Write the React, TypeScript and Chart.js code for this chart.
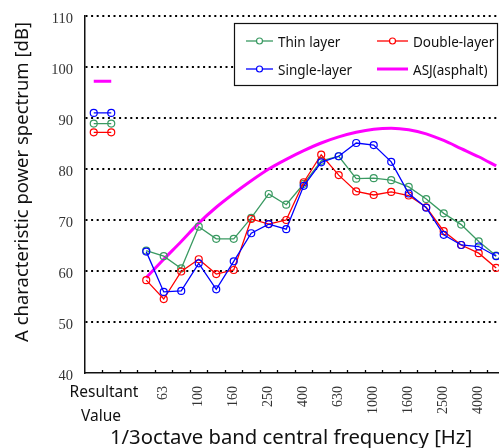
import React, { useEffect, useRef } from "react";
import { Chart, registerables } from "chart.js";

Chart.register(...registerables);

// 1/3 octave band centre frequencies [Hz]
const bands = ["50", "63", "80", "100", "125", "160", "200", "250", "315", "400", "500", "630", "800", "1000", "1250", "1600", "2000", "2500", "3150", "4000", "5000"];
// bands that carry a tick label
const labeledBands = ["63", "100", "160", "250", "400", "630", "1000", "1600", "2500", "4000"];
const resultantLabel = ["Resultant", "Value"];

// A characteristic power spectrum [dB]
const thinLayer = [64.0, 62.9, 60.5, 68.7, 66.3, 66.3, 70.4, 75.1, 73.0, 77.1, 81.6, 82.5, 78.1, 78.2, 77.8, 76.5, 74.1, 71.3, 69.1, 65.8, 63.0];
const doubleLayer = [58.2, 54.5, 59.9, 62.3, 59.4, 60.2, 70.2, 69.2, 70.0, 77.4, 82.8, 78.8, 75.6, 74.9, 75.5, 74.8, 72.5, 67.8, 65.1, 63.5, 60.6];
const singleLayer = [63.8, 55.9, 56.1, 61.5, 56.4, 61.9, 67.4, 69.2, 68.2, 76.7, 81.3, 82.5, 85.1, 84.7, 81.4, 75.2, 72.4, 67.1, 65.1, 64.8, 62.9];
const asjAsphalt = [58.7, 62.3, 65.8, 69.4, 72.5, 75.2, 77.7, 80.0, 81.9, 83.6, 85.1, 86.3, 87.2, 87.8, 88.0, 87.7, 86.9, 85.6, 84.0, 82.4, 80.6];

// overall (resultant) values [dB]
const thinResultant = 88.9;
const doubleResultant = 87.2;
const singleResultant = 91.0;
const asjResultant = 97.2;

const seriesNames = ["Thin layer", "Double-layer", "Single-layer", "ASJ(asphalt)"];
const seriesColors = ["#3a9a62", "#ff0000", "#0000ff", "#ff00ff"];

const yMin = 40;
const yMax = 110;
const yStep = 10;

// slot layout along the x axis: 2 resultant slots, 1 empty slot, then the bands
const RESULTANT_SLOTS = [0, 1];
const GAP_SLOT = 2;
const BAND_START = 3;
const X_MAX = 23.66;

function buildData(resultant: number, values: number[]) {
  return [
    ...RESULTANT_SLOTS.map((s) => ({ x: s + 0.5, y: resultant })),
    { x: GAP_SLOT + 0.5, y: null as any },
    ...values.map((v, i) => ({ x: BAND_START + i + 0.5, y: v })),
  ];
}

const SANS = "'Noto Sans', 'Open Sans', sans-serif";
const SERIF = "'Liberation Serif', 'DejaVu Serif', serif";

const decorPlugin = {
  id: "decor",
  afterDraw(chart: any) {
    const { ctx, chartArea, scales } = chart;
    const x = scales.x;
    ctx.save();
    // inward tick marks on the x axis
    ctx.strokeStyle = "#000";
    ctx.lineWidth = 1.3;
    for (let i = 1; i <= Math.floor(X_MAX); i++) {
      const px = Math.round(x.getPixelForValue(i)) + 0.5;
      ctx.beginPath();
      ctx.moveTo(px, chartArea.bottom);
      ctx.lineTo(px, chartArea.bottom - 3);
      ctx.stroke();
    }

    // "Resultant Value" label under the resultant slots
    ctx.fillStyle = "#111";
    ctx.font = `15.5px ${SANS}`;
    ctx.textAlign = "center";
    ctx.textBaseline = "alphabetic";
    const cx = x.getPixelForValue(1) + 1.5;
    ctx.fillText(resultantLabel[0], cx, 396.5);
    ctx.fillText(resultantLabel[1], cx - 3, 420.5);

    // axis titles
    ctx.font = `20.3px ${SANS}`;
    ctx.fillText("1/3octave band central frequency [Hz]", 291, 444);
    ctx.save();
    ctx.translate(27.5, 182);
    ctx.rotate(-Math.PI / 2);
    ctx.font = `18.5px ${SANS}`;
    ctx.fillText("A characteristic power spectrum [dB]", 0, 0);
    ctx.restore();

    // legend box
    const bx = 234.5, by = 23.5, bw = 263, bh = 62;
    ctx.fillStyle = "#fff";
    ctx.fillRect(bx, by, bw, bh);
    ctx.strokeStyle = "#111";
    ctx.lineWidth = 1.2;
    ctx.strokeRect(bx, by, bw, bh);
    const cols = [
      { x0: 246, x1: 273, tx: 278 },
      { x0: 377, x1: 408, tx: 413 },
    ];
    const rows = [41, 69];
    ctx.font = `13.5px ${SANS}`;
    ctx.textAlign = "left";
    seriesNames.forEach((name, i) => {
      const c = cols[i % 2];
      const ry = rows[Math.floor(i / 2)];
      const color = seriesColors[i];
      const isLineOnly = i === 3;
      ctx.strokeStyle = color;
      ctx.lineWidth = isLineOnly ? 3 : 1.3;
      ctx.beginPath();
      ctx.moveTo(c.x0, ry);
      ctx.lineTo(c.x1, ry);
      ctx.stroke();
      if (!isLineOnly) {
        ctx.fillStyle = "#fff";
        ctx.lineWidth = 1.2;
        ctx.beginPath();
        ctx.arc((c.x0 + c.x1) / 2, ry, 3, 0, Math.PI * 2);
        ctx.fill();
        ctx.stroke();
      }
      ctx.fillStyle = "#111";
      ctx.fillText(name, c.tx, ry + 5.5);
    });
    ctx.restore();
  },
};

export default function App() {
  const canvasRef = useRef<HTMLCanvasElement | null>(null);

  useEffect(() => {
    if (!canvasRef.current) return;
    const pointSeries = (label: string, color: string, res: number, vals: number[]) => ({
      label,
      data: buildData(res, vals),
      borderColor: color,
      backgroundColor: color,
      borderWidth: 1.3,
      pointRadius: 3.5,
      pointBorderWidth: 1.2,
      pointBackgroundColor: "rgba(255,255,255,0)",
      pointBorderColor: color,
      tension: 0,
      spanGaps: false,
    });
    const chart = new Chart(canvasRef.current, {
      type: "line",
      data: {
        datasets: [
          pointSeries(seriesNames[2], seriesColors[2], singleResultant, singleLayer),
          pointSeries(seriesNames[1], seriesColors[1], doubleResultant, doubleLayer),
          pointSeries(seriesNames[0], seriesColors[0], thinResultant, thinLayer),
          {
            label: seriesNames[3],
            data: buildData(asjResultant, asjAsphalt),
            borderColor: seriesColors[3],
            backgroundColor: seriesColors[3],
            borderWidth: 3,
            pointRadius: 0,
            cubicInterpolationMode: "monotone",
            spanGaps: false,
          },
        ] as any,
      },
      options: {
        animation: false,
        responsive: false,
        layout: { autoPadding: false, padding: { top: 16, right: 0, left: 0, bottom: 0 } },
        plugins: {
          legend: { display: false },
          tooltip: { enabled: false },
        },
        scales: {
          x: {
            type: "linear",
            min: 0,
            max: X_MAX,
            afterBuildTicks: (scale: any) => {
              scale.ticks = labeledBands.map((b) => ({ value: BAND_START + bands.indexOf(b) + 0.5 }));
            },
            afterFit: (scale: any) => {
              scale.height = 75;
              scale.paddingLeft = 0;
              scale.paddingRight = 0;
            },
            grid: { display: false, drawTicks: false },
            border: { display: true, color: "#111", width: 1.5 },
            ticks: {
              autoSkip: false,
              minRotation: 90,
              maxRotation: 90,
              padding: 13,
              color: "#333",
              font: { family: SERIF, size: 14 },
              callback: (value: any) => bands[Math.round(Number(value) - 0.5 - BAND_START)],
            },
          },
          y: {
            type: "linear",
            min: yMin,
            max: yMax,
            afterFit: (scale: any) => {
              scale.width = 85;
              scale.paddingTop = 0;
              scale.paddingBottom = 0;
            },
            grid: {
              drawTicks: false,
              lineWidth: 2,
              color: (ctx: any) => (ctx.tick && ctx.tick.value === yMin ? "rgba(0,0,0,0)" : "#000"),
            },
            border: { display: true, color: "#111", width: 1.5, dash: [2, 3.6] },
            ticks: {
              stepSize: yStep,
              padding: 12,
              labelOffset: 3,
              color: "#333",
              font: { family: SERIF, size: 14.5 },
            },
          },
        },
      } as any,
      plugins: [decorPlugin],
    });
    return () => chart.destroy();
  }, []);

  return (
    <div style={{ position: "fixed", left: 0, top: 0, width: 499, height: 448, background: "#fff" }}>
      <canvas ref={canvasRef} width={499} height={448} style={{ width: 499, height: 448, display: "block" }} />
    </div>
  );
}
